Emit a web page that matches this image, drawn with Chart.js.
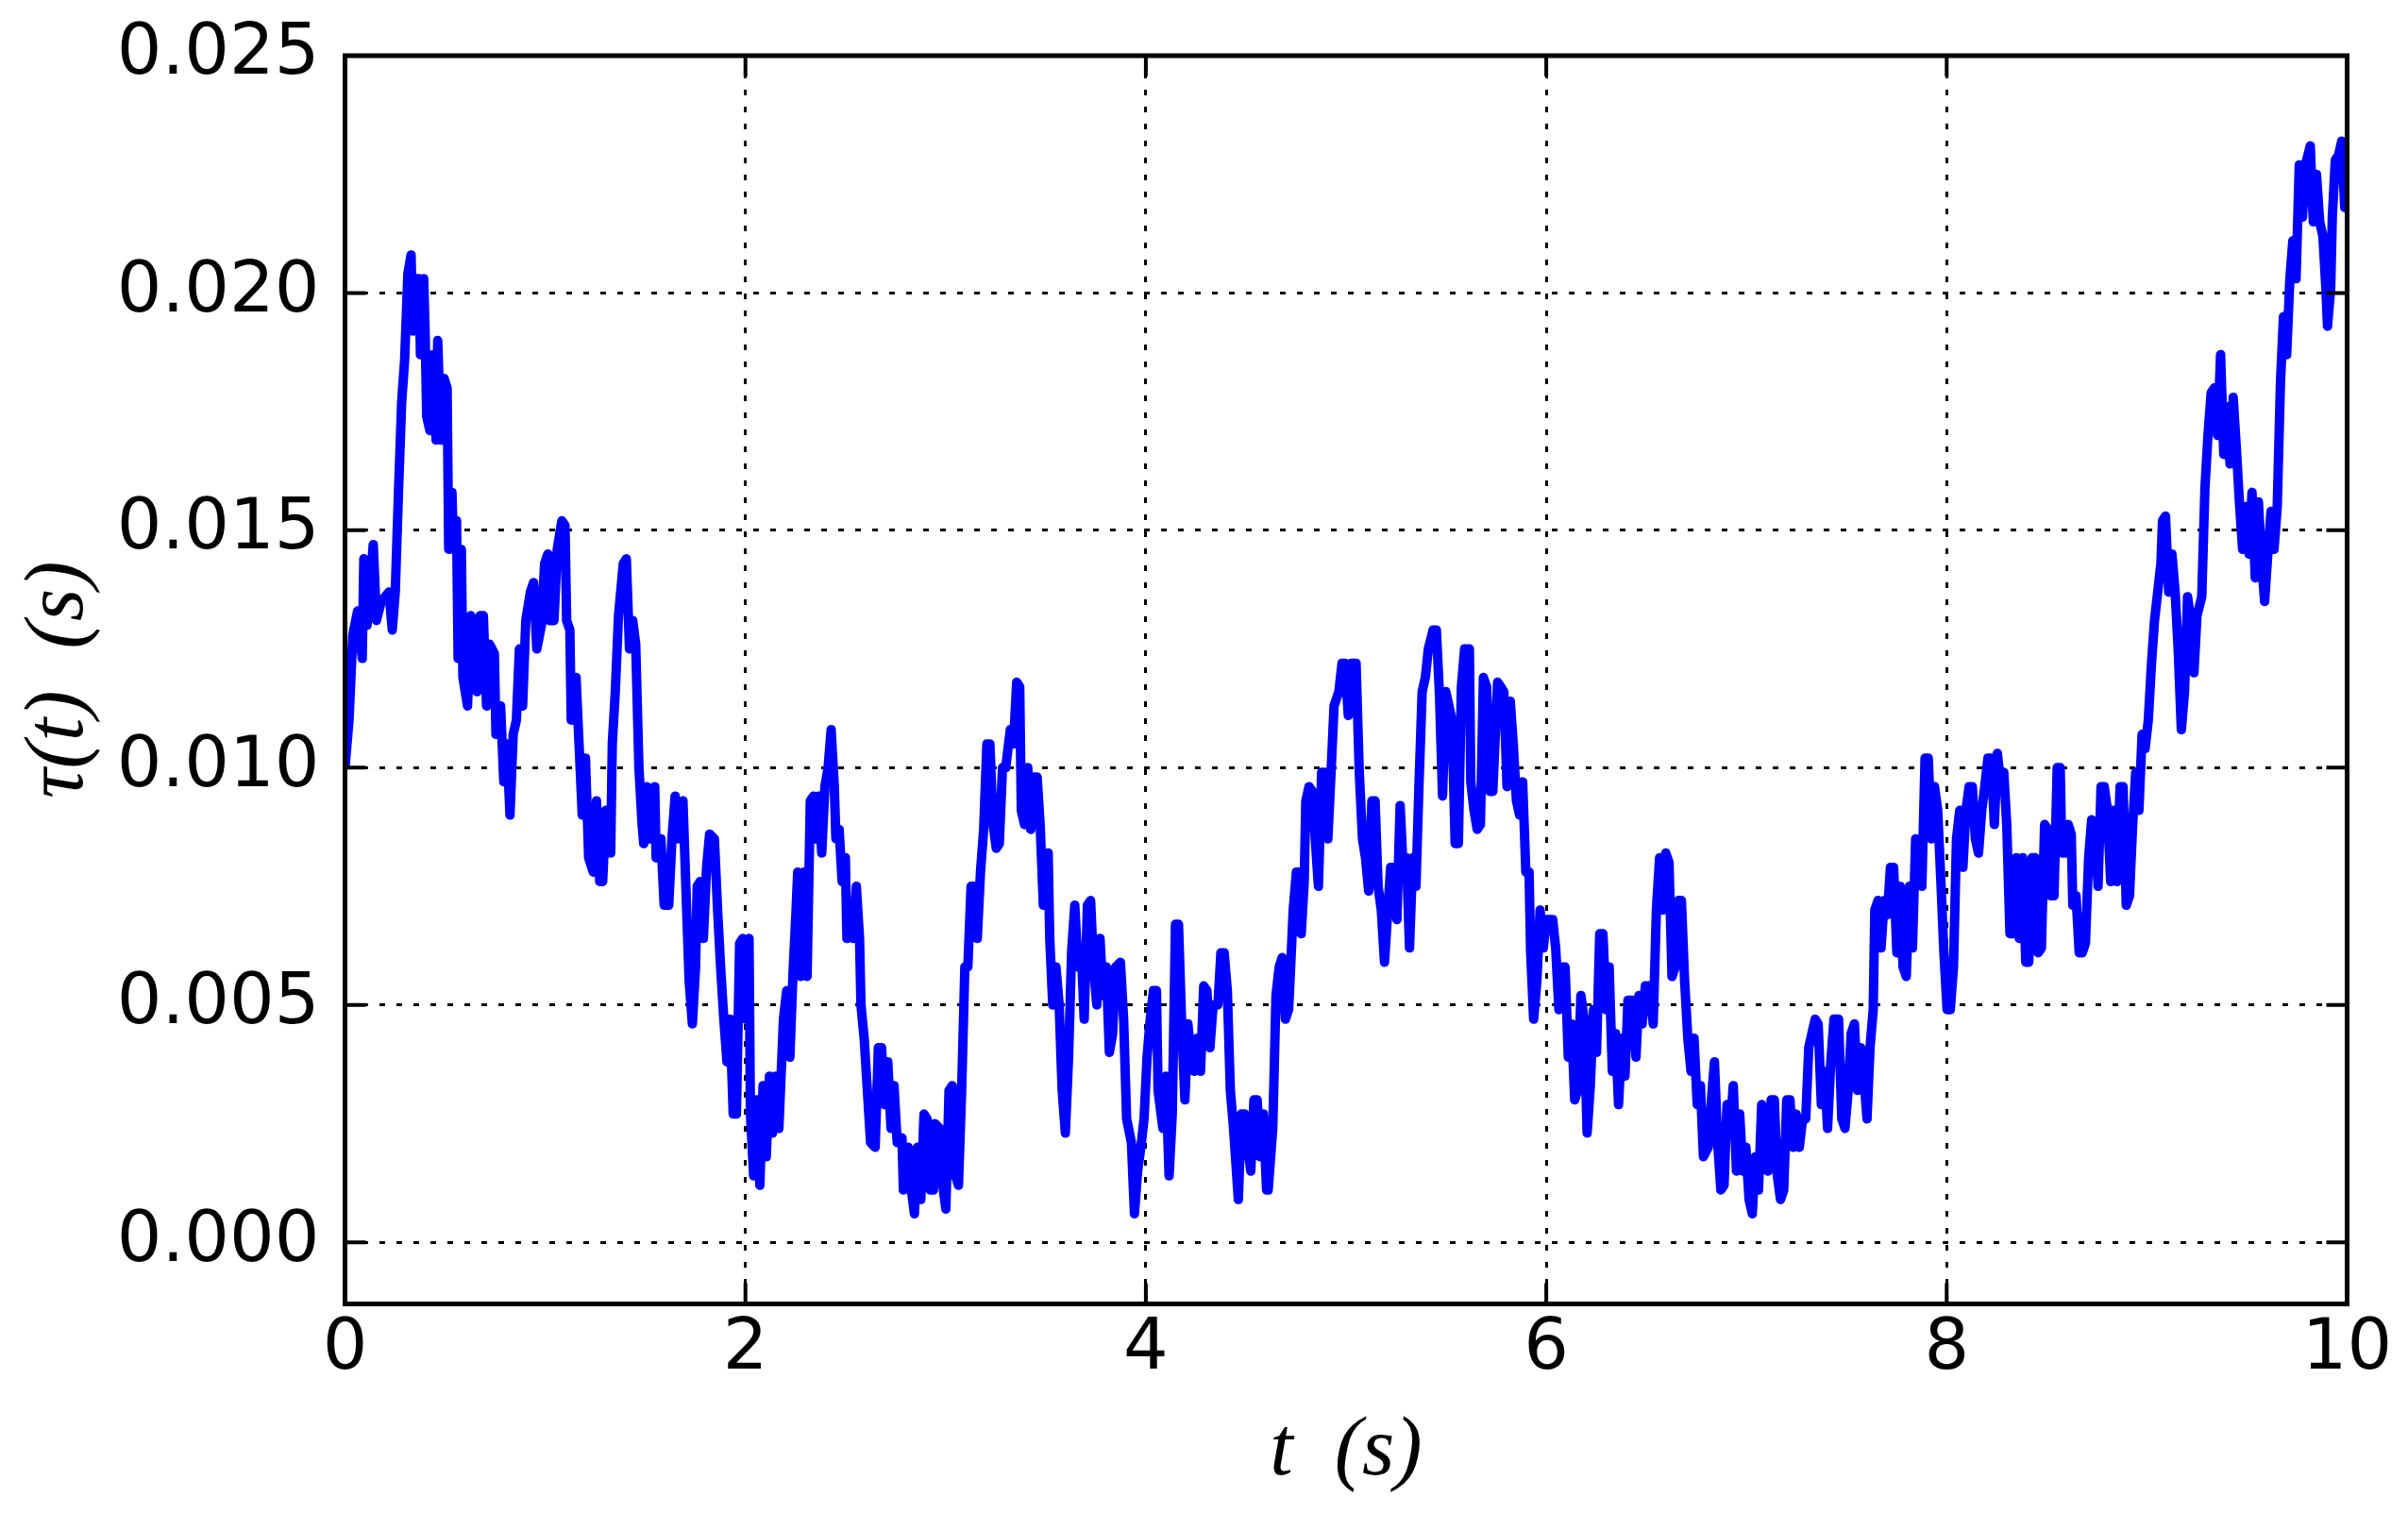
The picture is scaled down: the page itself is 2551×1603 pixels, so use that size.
<!DOCTYPE html>
<html>
<head>
<meta charset="utf-8">
<script src="https://cdn.jsdelivr.net/npm/chart.js@4.4.0/dist/chart.umd.min.js"></script>
<style>
html,body{margin:0;padding:0;background:#fff;}
#wrap{width:2551px;height:1603px;position:relative;}
</style>
</head>
<body>
<div id="wrap"><canvas id="c"></canvas></div>
<script>
// ---- data (t in s, tau in s) ----
const timeA = [
0.000,0.020,0.039,0.063,0.086,0.094,0.110,0.141,0.157,0.181,
0.220,0.236,0.251,0.267,0.283,0.298,0.314,0.330,0.338,0.353,
0.369,0.377,0.393,0.400,0.408,0.424,0.440,0.455,0.463,0.479,
0.495,0.510,0.518,0.534,0.542,0.557,0.565,0.581,0.589,0.612,
0.628,0.644,0.659,0.675,0.691,0.707,0.722,0.746,0.754,0.777,
0.793,0.809,0.824,0.840,0.856,0.871,0.887,0.903,0.926,0.942,
0.958,0.981,0.997,1.013,1.021,1.044,1.060,1.083,1.099,1.107,
1.123,1.130,1.154,1.170,1.185,1.201,1.217,1.240,1.256,1.272,
1.287,1.303,1.327,1.335,1.350,1.366,1.390,1.405,1.421,1.437,
1.452,1.468,1.484,1.492,1.507,1.523,1.547,1.554,1.578,1.594,
1.617,1.633,1.649,1.664,1.688,1.704,1.719,1.735,1.751,1.759,
1.774,1.790,1.806,1.821,1.845,1.861,1.876,1.892,1.908,1.923,
1.939,1.955,1.971,1.986,2.002,2.018,2.025,2.041,2.057,2.072,
2.088,2.104,2.120,2.135,2.151,2.167,2.190,2.206,2.222,2.237,
2.253,2.261,2.277,2.292,2.308,2.324,2.340];
const tauA = [
0.0100,0.0110,0.0128,0.0133,0.0123,0.0144,0.0130,0.0147,0.0131,0.0135,
0.0137,0.0129,0.0137,0.0158,0.0177,0.0186,0.0204,0.0208,0.0192,0.0203,
0.0203,0.0187,0.0203,0.0192,0.0174,0.0171,0.0187,0.0169,0.0190,0.0169,
0.0182,0.0180,0.0146,0.0158,0.0146,0.0152,0.0123,0.0146,0.0119,0.0113,
0.0132,0.0130,0.0116,0.0132,0.0132,0.0113,0.0126,0.0124,0.0107,0.0113,
0.0097,0.0105,0.0090,0.0107,0.0110,0.0125,0.0113,0.0131,0.0137,0.0139,
0.0125,0.0130,0.0143,0.0145,0.0131,0.0131,0.0146,0.0152,0.0151,0.0131,
0.0129,0.0110,0.0119,0.0104,0.0090,0.0102,0.0081,0.0078,0.0093,0.0076,
0.0076,0.0091,0.0082,0.0105,0.0116,0.0132,0.0143,0.0144,0.0125,0.0131,
0.0126,0.0100,0.0088,0.0084,0.0096,0.0085,0.0096,0.0081,0.0085,0.0071,
0.0071,0.0085,0.0094,0.0085,0.0093,0.0073,0.0055,0.0046,0.0058,0.0075,
0.0076,0.0064,0.0079,0.0086,0.0085,0.0070,0.0058,0.0047,0.0038,0.0047,
0.0027,0.0027,0.0063,0.0064,0.0047,0.0064,0.0027,0.0014,0.0030,0.0012,
0.0033,0.0018,0.0035,0.0023,0.0035,0.0024,0.0047,0.0053,0.0039,0.0056,
0.0070,0.0078,0.0056,0.0078,0.0056,0.0093,0.0094];

const timeB = [
2.350,2.366,2.381,2.397,2.413,2.428,2.444,2.452,2.468,2.483,
2.499,2.507,2.523,2.538,2.554,2.570,2.577,2.593,2.609,2.625,
2.648,2.664,2.680,2.695,2.711,2.727,2.742,2.758,2.782,2.789,
2.813,2.829,2.844,2.860,2.876,2.892,2.907,2.923,2.939,2.946,
2.970,2.986,3.001,3.017,3.033,3.049,3.064,3.080,3.096,3.111,
3.127,3.143,3.158,3.174,3.190,3.206,3.221,3.237,3.253,3.268,
3.284,3.300,3.323,3.339,3.355,3.370,3.378,3.394,3.410,3.425,
3.441,3.457,3.472,3.488,3.512,3.520,3.535,3.551,3.567,3.582,
3.598,3.614,3.629,3.645,3.661,3.677,3.692,3.708,3.724,3.739,
3.755,3.771,3.786,3.802,3.818,3.834,3.849,3.873,3.889,3.904,
3.928,3.943,3.959,3.975,3.991,4.006,4.022,4.038,4.053,4.061,
4.085,4.100,4.116,4.132,4.148,4.163,4.179,4.195,4.210,4.226,
4.242,4.257,4.273,4.289,4.305,4.320,4.336,4.360,4.375,4.391,
4.407,4.422,4.438,4.462,4.477,4.493,4.509,4.524,4.540,4.556,
4.571,4.587,4.603];
const tauB = [
0.0085,0.0094,0.0082,0.0096,0.0100,0.0108,0.0096,0.0085,0.0087,0.0076,
0.0081,0.0064,0.0070,0.0064,0.0075,0.0064,0.0050,0.0043,0.0032,0.0021,
0.0020,0.0041,0.0041,0.0029,0.0038,0.0024,0.0033,0.0021,0.0022,0.0011,
0.0020,0.0011,0.0006,0.0020,0.0009,0.0027,0.0026,0.0011,0.0011,0.0025,
0.0024,0.0012,0.0007,0.0032,0.0033,0.0014,0.0012,0.0032,0.0058,0.0058,
0.0075,0.0075,0.0064,0.0078,0.0087,0.0105,0.0105,0.0088,0.0083,0.0084,
0.0100,0.0100,0.0108,0.0105,0.0118,0.0117,0.0091,0.0088,0.0100,0.0087,
0.0098,0.0098,0.0088,0.0071,0.0082,0.0064,0.0050,0.0058,0.0050,0.0032,
0.0023,0.0039,0.0061,0.0071,0.0058,0.0062,0.0047,0.0071,0.0072,0.0058,
0.0050,0.0064,0.0052,0.0058,0.0040,0.0044,0.0058,0.0059,0.0047,0.0026,
0.0021,0.0006,0.0015,0.0020,0.0026,0.0039,0.0047,0.0053,0.0053,0.0032,
0.0024,0.0035,0.0014,0.0027,0.0067,0.0067,0.0046,0.0030,0.0046,0.0039,
0.0036,0.0043,0.0036,0.0054,0.0053,0.0041,0.0050,0.0050,0.0061,0.0061,
0.0053,0.0032,0.0024,0.0009,0.0027,0.0027,0.0020,0.0015,0.0030,0.0030,
0.0018,0.0027,0.0011];

const timeC = [
4.611,4.634,4.650,4.666,4.681,4.697,4.713,4.721,4.736,4.752,
4.768,4.776,4.791,4.799,4.815,4.831,4.846,4.862,4.878,4.893,
4.909,4.925,4.940,4.964,4.980,4.995,5.011,5.027,5.050,5.066,
5.082,5.097,5.113,5.129,5.145,5.160,5.176,5.192,5.207,5.223,
5.239,5.254,5.270,5.286,5.302,5.317,5.333,5.349,5.364,5.380,
5.396,5.411,5.435,5.451,5.466,5.482,5.498,5.514,5.529,5.545,
5.561,5.576,5.592,5.616,5.623,5.639,5.655,5.671,5.686,5.702,
5.718,5.733,5.757,5.773,5.788,5.804,5.820,5.835,5.851,5.867,
5.882,5.898,5.914,5.922,5.937,5.953,5.969,5.985,6.000,6.016,
6.032,6.047,6.063,6.079,6.094,6.110,6.126,6.142,6.157,6.173,
6.189,6.204,6.220,6.236,6.251,6.267,6.283,6.299,6.314,6.330,
6.346,6.361,6.377,6.393,6.408,6.432,6.448,6.463,6.479,6.495,
6.518,6.534,6.550,6.566,6.581,6.597,6.613,6.628,6.644,6.660,
6.675,6.691,6.707,6.723,6.738,6.754,6.770,6.785,6.809,6.825,
6.840,6.856,6.872,6.888,6.903,6.919,6.934];
const tauC = [
0.0011,0.0024,0.0052,0.0058,0.0060,0.0047,0.0049,0.0056,0.0070,0.0078,
0.0078,0.0065,0.0076,0.0093,0.0096,0.0095,0.0085,0.0075,0.0099,0.0099,
0.0085,0.0099,0.0113,0.0116,0.0122,0.0122,0.0111,0.0122,0.0122,0.0099,
0.0085,0.0081,0.0074,0.0093,0.0093,0.0075,0.0070,0.0059,0.0069,0.0079,
0.0079,0.0068,0.0092,0.0078,0.0081,0.0062,0.0081,0.0075,0.0096,0.0116,
0.0119,0.0125,0.0129,0.0129,0.0116,0.0094,0.0116,0.0113,0.0110,0.0084,
0.0084,0.0117,0.0125,0.0125,0.0097,0.0091,0.0087,0.0088,0.0119,0.0117,
0.0095,0.0095,0.0118,0.0117,0.0116,0.0096,0.0114,0.0105,0.0093,0.0090,
0.0097,0.0078,0.0078,0.0061,0.0047,0.0055,0.0070,0.0062,0.0068,0.0068,
0.0068,0.0062,0.0049,0.0058,0.0058,0.0039,0.0046,0.0030,0.0032,0.0052,
0.0047,0.0023,0.0033,0.0049,0.0040,0.0065,0.0065,0.0049,0.0058,0.0036,
0.0044,0.0029,0.0043,0.0035,0.0051,0.0051,0.0039,0.0052,0.0046,0.0054,
0.0054,0.0046,0.0070,0.0081,0.0070,0.0082,0.0080,0.0056,0.0058,0.0072,
0.0072,0.0055,0.0043,0.0036,0.0043,0.0029,0.0033,0.0018,0.0020,0.0030,
0.0038,0.0021,0.0011,0.0012,0.0029,0.0024,0.0033];

const timeD = [
6.950,6.966,6.982,6.997,7.013,7.029,7.044,7.060,7.076,7.091,
7.107,7.123,7.139,7.154,7.170,7.186,7.201,7.217,7.233,7.248,
7.264,7.280,7.296,7.311,7.327,7.343,7.358,7.374,7.390,7.405,
7.421,7.437,7.460,7.476,7.492,7.508,7.523,7.539,7.555,7.570,
7.586,7.602,7.617,7.633,7.641,7.657,7.672,7.688,7.704,7.719,
7.735,7.751,7.767,7.782,7.798,7.814,7.829,7.845,7.861,7.876,
7.892,7.908,7.924,7.939,7.955,7.971,7.986,8.002,8.018,8.034,
8.049,8.065,8.081,8.096,8.112,8.128,8.143,8.159,8.175,8.190,
8.206,8.222,8.238,8.253,8.269,8.285,8.300,8.316,8.332,8.347,
8.363,8.379,8.395,8.410,8.426,8.442,8.457,8.473,8.489,8.505,
8.520,8.536,8.552,8.567,8.575,8.591,8.607,8.622,8.630,8.646,
8.662,8.677,8.693,8.709,8.724,8.740,8.756,8.771,8.787,8.803,
8.819,8.834,8.850,8.866,8.881,8.897,8.913,8.929,8.944,8.960,
8.976,8.991,9.007,9.023,9.038,9.054,9.070,9.078,9.093,9.109,
9.125,9.141,9.156,9.172,9.188,9.203,9.219,9.235,9.250];
const tauD = [
0.0015,0.0027,0.0015,0.0020,0.0009,0.0006,0.0018,0.0011,0.0029,0.0027,
0.0015,0.0030,0.0030,0.0014,0.0009,0.0011,0.0030,0.0030,0.0020,0.0027,
0.0020,0.0026,0.0026,0.0041,0.0044,0.0047,0.0046,0.0029,0.0036,0.0024,
0.0038,0.0047,0.0047,0.0026,0.0024,0.0032,0.0044,0.0046,0.0032,0.0041,
0.0035,0.0026,0.0041,0.0049,0.0070,0.0072,0.0062,0.0072,0.0069,0.0079,
0.0079,0.0061,0.0075,0.0058,0.0056,0.0075,0.0062,0.0085,0.0084,0.0075,
0.0102,0.0102,0.0085,0.0096,0.0091,0.0076,0.0061,0.0049,0.0049,0.0058,
0.0085,0.0091,0.0079,0.0091,0.0096,0.0096,0.0085,0.0082,0.0091,0.0096,
0.0102,0.0102,0.0088,0.0103,0.0097,0.0099,0.0088,0.0065,0.0065,0.0081,
0.0064,0.0081,0.0059,0.0059,0.0081,0.0081,0.0061,0.0062,0.0088,0.0087,
0.0073,0.0073,0.0100,0.0100,0.0082,0.0082,0.0088,0.0086,0.0071,0.0073,
0.0061,0.0061,0.0063,0.0081,0.0089,0.0088,0.0075,0.0096,0.0096,0.0091,
0.0076,0.0091,0.0076,0.0096,0.0096,0.0071,0.0073,0.0088,0.0099,0.0091,
0.0107,0.0104,0.0110,0.0122,0.0131,0.0137,0.0143,0.0152,0.0153,0.0137,
0.0145,0.0137,0.0125,0.0108,0.0116,0.0136,0.0131,0.0120,0.0132];

const timeE = [
9.274,9.290,9.305,9.321,9.337,9.353,9.368,9.384,9.400,9.415,
9.431,9.447,9.462,9.478,9.494,9.510,9.525,9.541,9.557,9.572,
9.588,9.604,9.620,9.635,9.651,9.667,9.682,9.698,9.714,9.729,
9.745,9.761,9.777,9.792,9.816,9.831,9.847,9.863,9.879,9.894,
9.902,9.918,9.926,9.941,9.957,9.973,9.988,10.000];
const tauE = [
0.0136,0.0159,0.0170,0.0179,0.0180,0.0170,0.0187,0.0166,0.0176,0.0164,
0.0178,0.0167,0.0156,0.0146,0.0155,0.0145,0.0158,0.0140,0.0156,0.0144,
0.0135,0.0145,0.0154,0.0146,0.0155,0.0181,0.0195,0.0187,0.0203,0.0211,
0.0203,0.0227,0.0216,0.0227,0.0231,0.0215,0.0225,0.0215,0.0212,0.0201,
0.0193,0.0201,0.0216,0.0228,0.0229,0.0232,0.0218,0.0227];

const xTickValues = [0, 2, 4, 6, 8, 10];
const yTickValues = [0.000, 0.005, 0.010, 0.015, 0.020, 0.025];
const xTitle = 't  (s)';
const yTitle = 'τ(t)  (s)';

// ---- build points ----
const allTimes = [].concat(timeA, timeB, timeC, timeD, timeE);
const allTau = [].concat(tauA, tauB, tauC, tauD, tauE);
const points = allTimes.map((t, i) => ({x: t, y: allTau[i]}));

// frame + inward ticks (matplotlib classic look)
const framePlugin = {
  id: 'frame',
  afterDatasetsDraw(chart) {
    const {ctx, chartArea: a, scales: {x, y}} = chart;
    ctx.save();
    ctx.strokeStyle = '#000';
    ctx.lineCap = 'butt';
    ctx.lineWidth = 4;
    ctx.beginPath();
    const L = 22;
    xTickValues.forEach(v => {
      const px = x.getPixelForValue(v);
      ctx.moveTo(px, a.bottom); ctx.lineTo(px, a.bottom - L);
      ctx.moveTo(px, a.top); ctx.lineTo(px, a.top + L);
    });
    yTickValues.forEach(v => {
      const py = y.getPixelForValue(v);
      ctx.moveTo(a.left, py); ctx.lineTo(a.left + L, py);
      ctx.moveTo(a.right, py); ctx.lineTo(a.right - L, py);
    });
    ctx.stroke();
    ctx.lineWidth = 5;
    ctx.lineJoin = 'miter';
    ctx.strokeRect(a.left, a.top, a.right - a.left, a.bottom - a.top);
    ctx.restore();
  }
};

const tickFont = {family: 'DejaVu Sans', size: 75};
const titleFont = {family: 'Liberation Serif', style: 'italic', size: 88};

new Chart(document.getElementById('c'), {
  type: 'line',
  data: {
    datasets: [{
      data: points,
      borderColor: '#0000ff',
      borderWidth: 10,
      pointRadius: 0,
      tension: 0,
      fill: false,
      borderJoinStyle: 'round',
      borderCapStyle: 'butt'
    }]
  },
  options: {
    responsive: true,
    maintainAspectRatio: false,
    animation: false,
    devicePixelRatio: 1,
    events: [],
    layout: {padding: {left: 0, top: 59, right: 64.5, bottom: 0}},
    plugins: {legend: {display: false}, tooltip: {enabled: false}},
    scales: {
      x: {
        type: 'linear',
        min: 0, max: 10,
        afterBuildTicks: s => { s.ticks = xTickValues.map(v => ({value: v})); },
        afterFit: s => { s.height = 221.5; },
        grid: {color: '#000', lineWidth: 3, drawTicks: false},
        border: {display: false, dash: [6, 12]},
        ticks: {color: '#000', font: tickFont, padding: 4, maxRotation: 0,
                callback: v => String(v)},
        title: {display: true, text: xTitle, color: '#000', font: titleFont,
                padding: {top: 0, bottom: 11}}
      },
      y: {
        type: 'linear',
        min: -0.0013, max: 0.025,
        afterBuildTicks: s => { s.ticks = yTickValues.map(v => ({value: v})); },
        afterFit: s => { s.width = 365.5; },
        grid: {color: '#000', lineWidth: 3, drawTicks: true, tickLength: 27,
               tickColor: 'rgba(0,0,0,0)'},
        border: {display: false, dash: [6, 12]},
        ticks: {color: '#000', font: tickFont, padding: 0,
                callback: v => Number(v).toFixed(3)},
        title: {display: true, text: yTitle, color: '#000', font: titleFont,
                padding: {top: 11, bottom: 0}}
      }
    }
  },
  plugins: [framePlugin]
});
</script>
</body>
</html>
